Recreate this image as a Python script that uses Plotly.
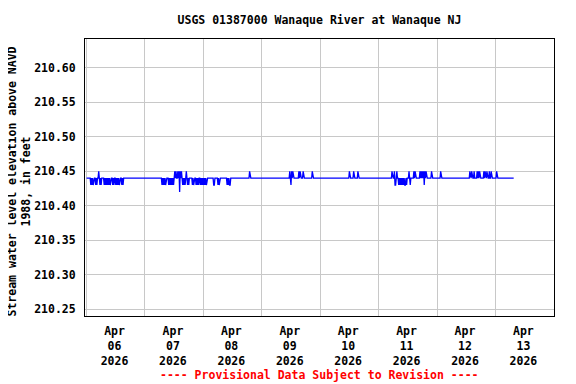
import plotly.graph_objects as go
import pandas as pd

# ---------------- data ----------------
station_title = "USGS 01387000 Wanaque River at Wanaque NJ"
y_title = "Stream water level elevation above NAVD<br>1988, in feet"
footer_text = "---- Provisional Data Subject to Revision ----"

series_start = "2026-04-06 00:00"   # first 15-minute reading
reading_step = "15min"
# reading codes: one character per 15-minute reading (groups of 4 = one hour)
level_codes = {"0": 210.44, "+": 210.45, "-": 210.43, "=": 210.42}

apr06 = ("0000 000- 0-0- 000- 0-00 +0-0 -000 0-0- 0-0- 0-0- 000- 0-00 "
         "-0-0 -0-0 00-0 -000 0000 0000 0000 0000 0000 0000 0000 0000")
apr07 = ("0000 0000 0000 0000 0000 0000 0000 -0-0 -0-0 000- 0-0- 0-0- "
         "0+0+ 00+0 +=+0 +0-0 -0-0 +0-0 -000 00-0 -000 -0-0 -00- 0-0-")
apr08 = ("0-0- 0-00 0000 0000 0--0 0000 -0-0 0000 0000 000- 0-0- -000 "
         "0000 0000 0000 0000 0000 0000 0000 +000 0000 0000 0000 0000")
apr09 = ("0000 0000 0000 0000 0000 0000 0000 0000 0000 0000 0000 00+0 "
         "-+0+ 0000 0000 0+0+ 0000 +000 0000 0000 000+ 0000 0000 0000")
apr10 = ("0000 0000 0000 0000 0000 0000 0000 0000 0000 0000 0000 0000 "
         "+000 000+ 0000 00+0 0000 0000 0000 0000 0000 0000 0000 0000")
apr11 = ("0000 0000 0000 0000 0000 00+0 00+- -0+0 0-0- 0-0- 0-0- -0-0 "
         "00+0 -000 00+0 +000 0000 +0+0 +0+- +0+0 0000 000+ 0000 0000")
apr12 = ("0000 00+0 0000 0000 0000 0000 0000 0000 0000 0000 0000 0000 "
         "0000 00+0 0+00 0+00 00+0 +0+0 0000 0+0+ 00+0 00+0 0+00 0000")
apr13 = "00+0 0000 0000 0000 0000 0000 0000 000"

day_readings = [apr06, apr07, apr08, apr09, apr10, apr11, apr12, apr13]

x_range = ["2026-04-05 23:22", "2026-04-14 00:04"]
y_range = [210.2403, 210.6416]
y_ticks = [210.25, 210.30, 210.35, 210.40, 210.45, 210.50, 210.55, 210.60]
day_label_times = ["2026-04-06 11:30", "2026-04-07 11:30", "2026-04-08 11:30",
                   "2026-04-09 11:30", "2026-04-10 11:30", "2026-04-11 11:30",
                   "2026-04-12 11:30", "2026-04-13 11:30"]
day_labels = ["Apr<br>06<br>2026", "Apr<br>07<br>2026", "Apr<br>08<br>2026",
              "Apr<br>09<br>2026", "Apr<br>10<br>2026", "Apr<br>11<br>2026",
              "Apr<br>12<br>2026", "Apr<br>13<br>2026"]
grid_start = "2026-04-06 00:00"

# ---------------- build series ----------------
codes = "".join(d.replace(" ", "") for d in day_readings)
levels = [level_codes[c] for c in codes]
times = pd.date_range(series_start, periods=len(levels), freq=reading_step)

FONT = "DejaVu Sans Mono"
fsize = 11.5
# the page body has an 8px margin, so the figure is drawn 8px in from the corner
W, H = 568, 376
L, R, T, B = 77, 22, 31, 68
plot_h = H - T - B

fig = go.Figure()
fig.add_trace(go.Scatter(x=times, y=levels, mode="lines",
                         line=dict(color="#0000ff", width=1.3),
                         showlegend=False, hoverinfo="skip"))

fig.update_layout(
    width=W, height=H,
    margin=dict(l=L, r=R, t=T, b=B),
    paper_bgcolor="white", plot_bgcolor="white",
    font=dict(family=FONT, size=fsize, color="black", weight="bold"),
    title=dict(text=station_title, x=0.5, xref="paper", xanchor="center",
               y=1 - 12 / H, yref="container", yanchor="middle",
               font=dict(family=FONT, size=fsize, color="black", weight="bold")),
    xaxis=dict(type="date", range=x_range,
               tickmode="array", tickvals=day_label_times, ticktext=day_labels,
               showgrid=False, ticks="", zeroline=False,
               showline=True, mirror=True, linecolor="black", linewidth=1,
               ticklabelstandoff=4,
               minor=dict(tickmode="linear", tick0=grid_start, dtick=86400000,
                          showgrid=True, gridcolor="#c8c8c8", gridwidth=1, ticks="")),
    yaxis=dict(range=y_range, tickmode="array", tickvals=y_ticks,
               ticktext=[f"{v:.2f}" for v in y_ticks],
               showgrid=True, gridcolor="#c8c8c8", gridwidth=1,
               ticks="", zeroline=False, ticklabelstandoff=6,
               showline=True, mirror=True, linecolor="black", linewidth=1),
)

fig.add_annotation(text=y_title, xref="paper", yref="paper",
                   x=(10.5 - L) / (W - L - R), y=(T + plot_h - 174) / plot_h,
                   xanchor="center", yanchor="middle", textangle=-90,
                   showarrow=False,
                   font=dict(family=FONT, size=fsize, color="black", weight="bold"))
fig.add_annotation(text=footer_text, xref="paper", yref="paper",
                   x=0.5, y=(T + plot_h - 367) / plot_h, xanchor="center", yanchor="middle",
                   showarrow=False,
                   font=dict(family=FONT, size=fsize, color="#ff0000", weight="bold"))

fig.write_html("out.html")
